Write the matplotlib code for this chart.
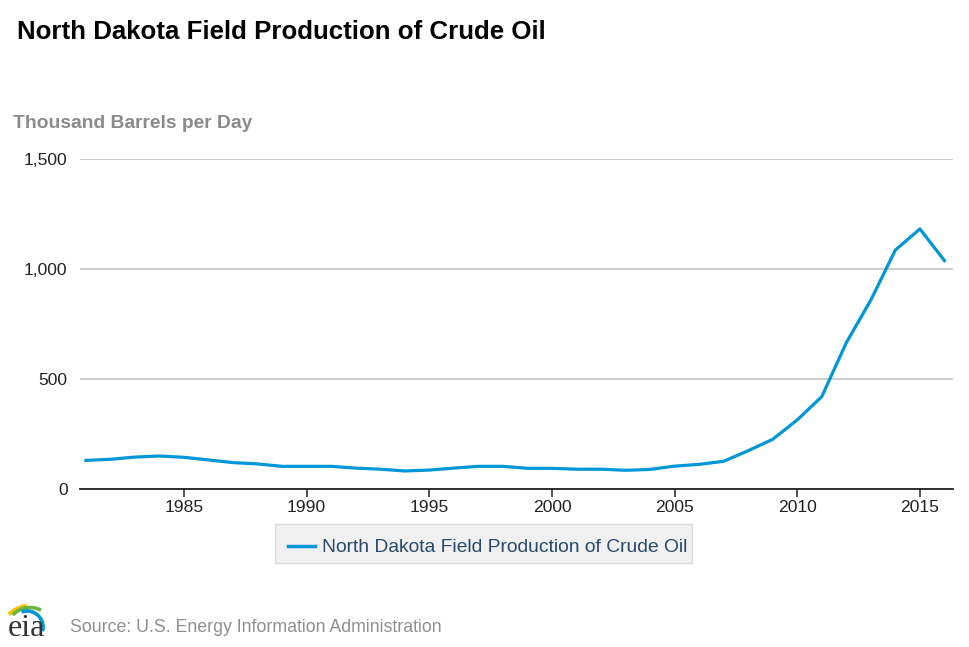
import matplotlib
matplotlib.use("Agg")
import numpy as np
import matplotlib.pyplot as plt
from matplotlib.patches import Rectangle

plt.rcParams['font.family'] = ['Liberation Sans', 'DejaVu Sans']

years = list(range(1981, 2017))
production = [130, 135, 145, 150, 144, 132, 120, 114, 103, 103,
              103, 95, 90, 82, 86, 95, 103, 103, 94, 94,
              90, 90, 85, 89, 104, 112, 126, 174, 226, 314,
              420, 665, 859, 1086, 1182, 1038]
xticks = [1985, 1990, 1995, 2000, 2005, 2010, 2015]
yticks = [0, 500, 1000, 1500]
ytick_labels = ["0", "500", "1,000", "1,500"]
series_name = "North Dakota Field Production of Crude Oil"

fig = plt.figure(figsize=(9.7, 6.47), dpi=100)
ax = fig.add_axes([0.0825, 0.2442, 0.9, 0.5101])

ax.plot(years, production, color="#0096d7", lw=2.3, solid_joinstyle="round")
ax.set_xlim(1980.76, 2016.35)
ax.set_ylim(0, 1500)
ax.set_xticks(xticks)
ax.set_yticks(yticks)
ax.set_yticklabels(ytick_labels)
ax.grid(axis="y", color="#c4c4c4", lw=1.2)
ax.set_axisbelow(True)
for s in ["top", "right", "left"]:
    ax.spines[s].set_visible(False)
ax.spines["bottom"].set_color("#222222")
ax.spines["bottom"].set_linewidth(1.3)
ax.spines["bottom"].set_zorder(5)
ax.tick_params(axis="x", length=6, width=1.1, color="#222222", labelsize=12.6, labelcolor="#222222", pad=2)
ax.tick_params(axis="y", length=0, labelsize=12.6, labelcolor="#222222", pad=9)

fig.text(0.018, 0.95, "North Dakota Field Production of Crude Oil", fontsize=18.6,
         fontweight="bold", color="black", va="center")
fig.text(0.013, 1 - 123 / 647, "Thousand Barrels per Day", fontsize=13.9, fontweight="bold",
         color="#8a8a8a", va="center")

# legend box
fig.patches.append(Rectangle((275 / 970, 1 - 563 / 647), 417 / 970, 39 / 647,
                             transform=fig.transFigure, facecolor="#f0f0f0",
                             edgecolor="#dcdcdc", lw=1))
fig.lines.append(plt.Line2D([288 / 970, 315 / 970], [1 - 546 / 647] * 2,
                            transform=fig.transFigure, color="#0096d7", lw=2.5))
fig.text(322 / 970, 1 - 548 / 647, series_name, fontsize=13.9, color="#2b4a6b", va="center")

# source + logo
fig.text(70 / 970, 1 - 628 / 647, "Source: U.S. Energy Information Administration",
         fontsize=12.75, color="#8f8f8f", va="center")
fig.text(8 / 970, 1 - 628 / 647, "eia", fontsize=23, family="Liberation Serif",
         color="#333333", va="center")
lax = fig.add_axes([0, 1 - 645 / 647, 60 / 970, 50 / 647])
lax.set_xlim(0, 60)
lax.set_ylim(0, 50)
lax.axis("off")
for (cx, cy, r, t0, t1, c) in [(30, 10, 29.5, 96, 136, "#f5c400"),
                               (30, 14, 23.5, 62, 137, "#6cb33f"),
                               (27, 18, 16, -15, 110, "#0096d7")]:
    t = np.radians(np.linspace(t0, t1, 40))
    lax.plot(cx + r * np.cos(t), cy + r * np.sin(t), color=c, lw=2.6,
             solid_capstyle="butt", clip_on=False)

fig.savefig("out.png", dpi=100)
